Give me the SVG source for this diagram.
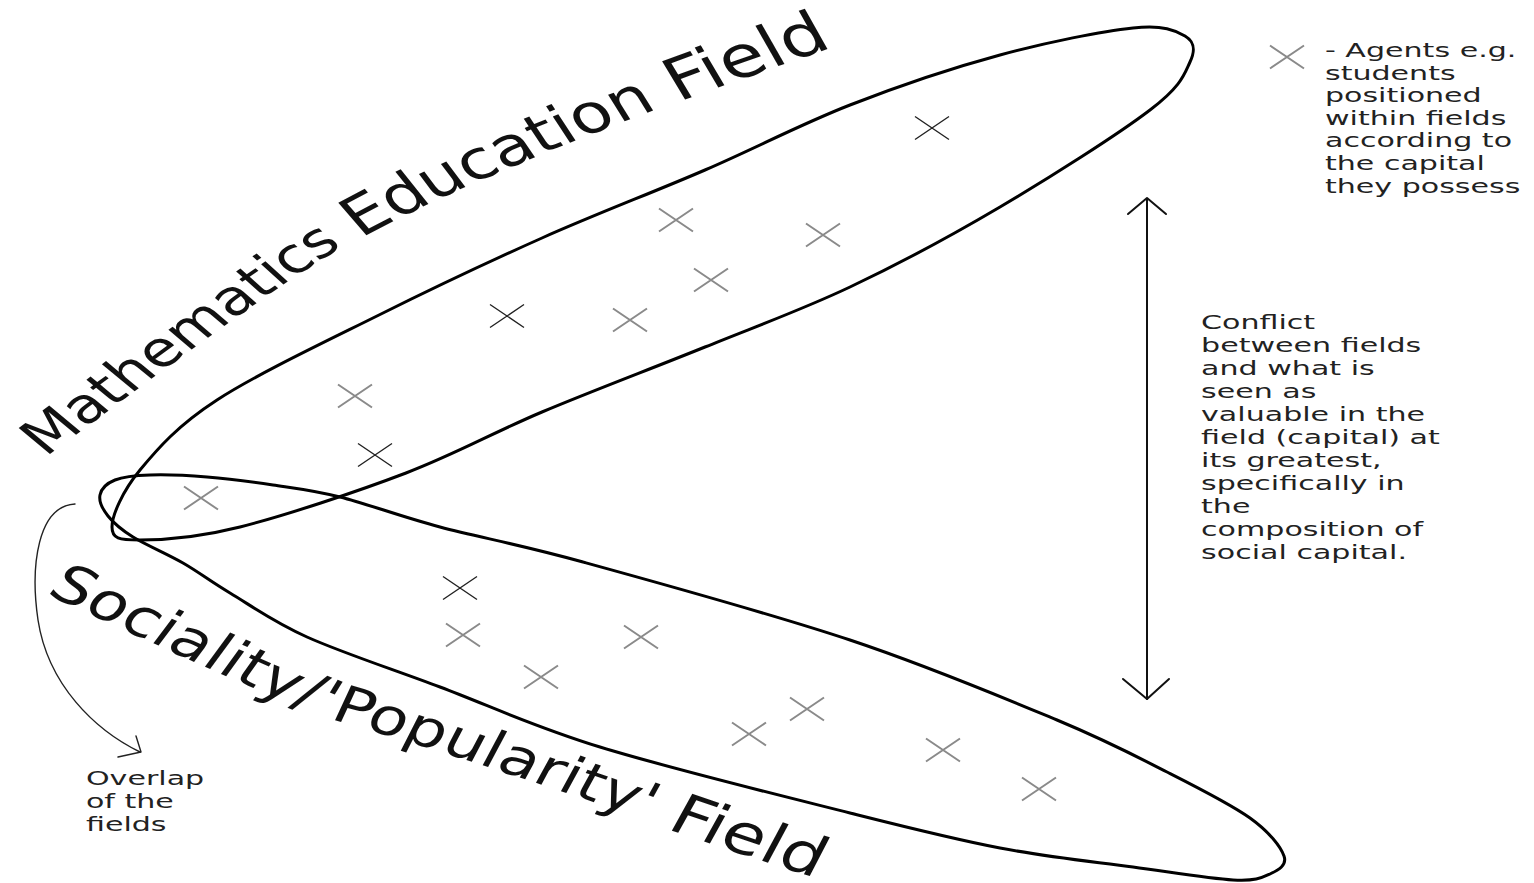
<svg xmlns="http://www.w3.org/2000/svg" width="1534" height="883" viewBox="0 0 1534 883">
<style>
.field{fill:none;stroke:#000;stroke-width:3;stroke-linejoin:round}
.big{font-family:"DejaVu Sans",sans-serif;font-size:52px;fill:#111}
.small{font-family:"DejaVu Sans",sans-serif;font-size:19.5px;fill:#222}
.xg{fill:none;stroke:#8a8a8a;stroke-width:2}
.xb{fill:none;stroke:#222;stroke-width:1.4}
.conn{fill:none;stroke:#111;stroke-width:2;stroke-linecap:round;stroke-linejoin:round}
.thin{fill:none;stroke:#222;stroke-width:1.4;stroke-linecap:round;stroke-linejoin:round}
</style>
<defs>
<path id="x" d="M-17,-11.5 L17,11.5 M-17,11.5 L17,-11.5"/>
<path id="mathPath" d="M-4.8,471.1 L39,430 C112,361.5 209.4,265.6 275,220 C373.4,151.6 528.4,79 629,35 L683.9,11"/>
<path id="socPath" d="M6.7,555.9 L58.6,586 C119.2,621.1 209.7,677.3 273.4,706 C390,748 540,818 629,854 L685.5,874"/>
</defs>
<rect width="1534" height="883" fill="#fff"/>
<g id="math-field">
<path class="field" d="M112,527 C112,515.3 122.5,491.2 140,470 C157.5,448.8 177.2,425.8 217,400 C256.8,374.2 324.8,342 379,315 C433.2,288 487.7,262.2 542,238 C596.3,213.8 653.7,192.2 705,170 C756.3,147.8 800.8,124.2 850,105 C899.2,85.8 952.8,67.8 1000,55 C1047.2,42.2 1102.2,31.2 1133,28 C1163.8,24.8 1175.5,30.3 1185,36 C1194.5,41.7 1195.8,49.7 1190,62 C1184.2,74.3 1181.7,85.8 1150,110 C1118.3,134.2 1050,177.5 1000,207 C950,236.5 899.2,263.7 850,287 C800.8,310.3 756.3,326.2 705,347 C653.7,367.8 591.8,391 542,412 C492.2,433 456.3,453.8 406,473 C355.7,492.2 284.3,515.8 240,527 C195.7,538.2 161.3,540 140,540 C118.7,540 112,538.7 112,527 Z"/>
<g transform="scale(1.28,1)"><text class="big" dominant-baseline="central"><textPath href="#mathPath" startOffset="38.9"><tspan style="font-size:49px">Mathematics</tspan><tspan style="font-size:54px"> Education </tspan><tspan style="font-size:58px">Field</tspan></textPath></text></g>
</g>
<g id="social-field">
<path class="field" d="M100,495 C101.2,489 106.7,483.3 115,480 C123.3,476.7 134.7,475.5 150,475 C165.3,474.5 186.5,475.3 207,477 C227.5,478.7 250.8,481.7 273,485 C295.2,488.3 312.2,490 340,497 C367.8,504 399.5,516.2 440,527 C480.5,537.8 514.7,543.2 583,562 C651.3,580.8 771,613.7 850,640 C929,666.3 1004.2,698 1057,720 C1109.8,742 1134.8,755.7 1167,772 C1199.2,788.3 1230.5,804 1250,818 C1269.5,832 1280.7,846.7 1284,856 C1287.3,865.3 1278.5,870 1270,874 C1261.5,878 1255.8,881.2 1233,880 C1210.2,878.8 1171.8,872.3 1133,867 C1094.2,861.7 1047.2,857 1000,848 C952.8,839 916.7,829.8 850,813 C783.3,796.2 668.3,768 600,747 C531.7,726 488.8,705.3 440,687 C391.2,668.7 342,652.7 307,637 C272,621.3 250.7,605.3 230,593 C209.3,580.7 199.2,572.3 183,563 C166.8,553.7 145.5,544.8 133,537 C120.5,529.2 113.5,523 108,516 C102.5,509 98.8,501 100,495 Z"/>
<g transform="scale(1.28,1)"><text class="big" dominant-baseline="central"><textPath href="#socPath" startOffset="43.5"><tspan style="font-size:52px">Sociality/'</tspan><tspan style="font-size:51px">Popularity' </tspan><tspan style="font-size:55px">Field</tspan></textPath></text></g>
</g>
<g id="agents">
<use href="#x" class="xb" x="932" y="128"/>
<use href="#x" class="xg" x="676" y="220"/>
<use href="#x" class="xg" x="823" y="235"/>
<use href="#x" class="xg" x="711" y="280"/>
<use href="#x" class="xb" x="507" y="316"/>
<use href="#x" class="xg" x="630" y="320"/>
<use href="#x" class="xg" x="355" y="396"/>
<use href="#x" class="xb" x="375" y="455"/>
<use href="#x" class="xg" x="201" y="498"/>
<use href="#x" class="xb" x="460" y="588"/>
<use href="#x" class="xg" x="463" y="635"/>
<use href="#x" class="xg" x="641" y="637"/>
<use href="#x" class="xg" x="541" y="677"/>
<use href="#x" class="xg" x="807" y="709"/>
<use href="#x" class="xg" x="749" y="734"/>
<use href="#x" class="xg" x="943" y="750"/>
<use href="#x" class="xg" x="1039" y="789"/>
</g>
<g id="legend">
<use href="#x" class="xg" x="1287" y="57"/>
<g transform="scale(1.543,1)">
<text class="small" x="858.7" y="57">- Agents e.g.</text>
<text class="small" x="858.7" y="79.6">students</text>
<text class="small" x="858.7" y="102.2">positioned</text>
<text class="small" x="858.7" y="124.8">within fields</text>
<text class="small" x="858.7" y="147.4">according to</text>
<text class="small" x="858.7" y="170">the capital</text>
<text class="small" x="858.7" y="192.6">they possess</text>
</g>
</g>
<g id="conflict-label">
<g transform="scale(1.543,1)">
<text class="small" x="778.4" y="329">Conflict</text>
<text class="small" x="778.4" y="352">between fields</text>
<text class="small" x="778.4" y="375">and what is</text>
<text class="small" x="778.4" y="398">seen as</text>
<text class="small" x="778.4" y="421">valuable in the</text>
<text class="small" x="778.4" y="444">field (capital) at</text>
<text class="small" x="778.4" y="467">its greatest,</text>
<text class="small" x="778.4" y="490">specifically in</text>
<text class="small" x="778.4" y="513">the</text>
<text class="small" x="778.4" y="536">composition of</text>
<text class="small" x="778.4" y="559">social capital.</text>
</g>
</g>
<g id="overlap-label">
<g transform="scale(1.543,1)">
<text class="small" x="55.7" y="785">Overlap</text>
<text class="small" x="55.7" y="808">of the</text>
<text class="small" x="55.7" y="831">fields</text>
</g>
</g>
<g id="connectors">
<line class="conn" x1="1147" y1="199" x2="1147" y2="699"/>
<polyline class="conn" points="1128,214 1147,198 1166,214"/>
<polyline class="conn" points="1123,679 1147,699 1169,679"/>
<path class="thin" d="M75,504 C38,506 30,565 38,620 C48,685 95,730 140,752"/>
<polyline class="thin" points="136,736 141,752 118,757"/>
</g>
</svg>
